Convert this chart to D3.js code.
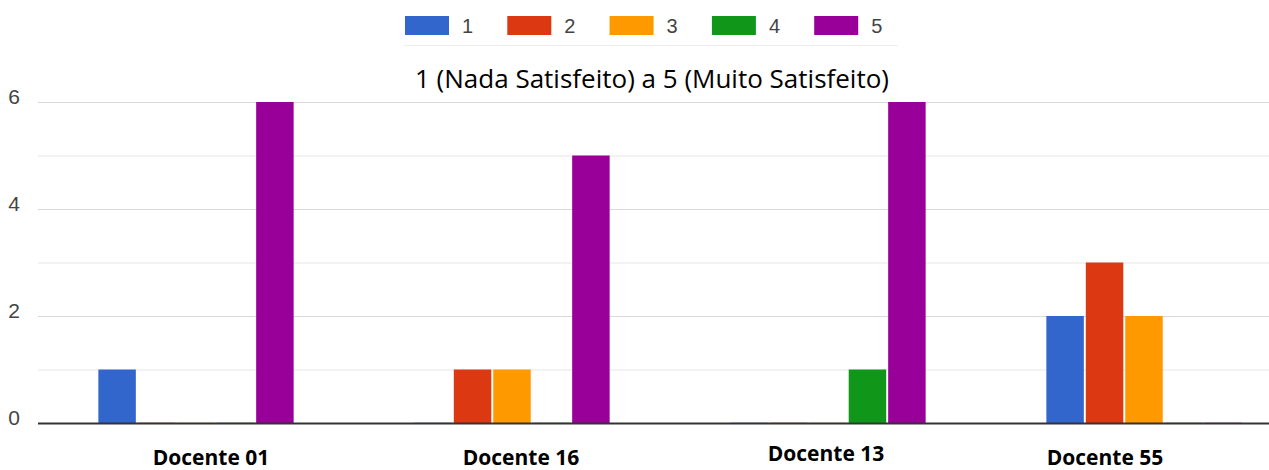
<!DOCTYPE html>
<html>
<head>
<meta charset="utf-8">
<script src="https://cdn.jsdelivr.net/npm/d3@7"></script>
<style>
  body { margin: 0; background: #fff; }
  .grid line { stroke: #e6e6e6; }
  .grid .major line { stroke: #d9d9d9; }
  .grid path { display: none; }
  .yaxis path, .yaxis line { display: none; }
  .yaxis text { font-family: "Liberation Sans", Arial, sans-serif; font-size: 21px; fill: #444; }
  .xaxis path, .xaxis line { display: none; }
  .xaxis text { font-family: "Open Sans", sans-serif; font-weight: bold; font-size: 21px; fill: #000; }
</style>
</head>
<body>
<div id="chart"></div>
<script>
// Datos
var docentes = ["Docente 01", "Docente 16", "Docente 13", "Docente 55"];
var niveles = ["1", "2", "3", "4", "5"];
var nivel1 = [1, 0, 0, 2];
var nivel2 = [0, 1, 0, 3];
var nivel3 = [0, 1, 0, 2];
var nivel4 = [0, 0, 1, 0];
var nivel5 = [6, 5, 6, 0];
var yTicks = [0, 2, 4, 6];
var titulo = "1 (Nada Satisfeito) a 5 (Muito Satisfeito)";
var colores = ["#3366cc", "#dc3912", "#ff9900", "#109618", "#990099"];

var series = [nivel1, nivel2, nivel3, nivel4, nivel5];

// Dimensiones
var W = 1269, H = 470;
var margin = {top: 102, left: 38, bottom: 47};
var height = H - margin.top - margin.bottom;

var svg = d3.select("#chart").append("svg")
    .attr("width", W)
    .attr("height", H);

var x0 = d3.scaleBand().domain(docentes).range([0, 1264]).padding(0);
var x1 = d3.scaleBand().domain(niveles).range([0, x0.bandwidth()])
    .paddingInner(0.05).paddingOuter(1.53);
var y = d3.scaleLinear().domain([0, 6]).range([height, 0]);

var g = svg.append("g")
    .attr("transform", "translate(" + margin.left + "," + margin.top + ")");

// grid
var grid = g.append("g")
    .attr("class", "grid")
    .call(d3.axisLeft(y).tickValues(d3.range(0, 7)).tickSize(-W).tickFormat(""));
grid.selectAll(".tick").classed("major", function(d) { return d % 2 === 0; });

// eje y (etiquetas)
g.append("g")
    .attr("class", "yaxis")
    .attr("transform", "translate(-6,0)")
    .call(d3.axisLeft(y).tickValues(yTicks).tickSize(0).tickPadding(12).tickFormat(d3.format("d")))
  .selectAll("text")
    .attr("dy", "0.05em");

// barras
var filas = docentes.map(function(d, i) {
  return {docente: d, valores: niveles.map(function(n, j) { return {nivel: n, v: series[j][i], c: colores[j]}; })};
});

var grupos = g.selectAll(".grupo")
    .data(filas)
  .enter().append("g")
    .attr("class", "grupo")
    .attr("transform", function(d) { return "translate(" + x0(d.docente) + ",0)"; });

grupos.selectAll("rect")
    .data(function(d) { return d.valores; })
  .enter().append("rect")
    .attr("x", function(d) { return x1(d.nivel); })
    .attr("width", x1.bandwidth())
    .attr("y", function(d) { return d.v > 0 ? y(d.v) : y(0) - 1; })
    .attr("height", function(d) { return d.v > 0 ? y(0) - y(d.v) : 1; })
    .attr("fill", function(d) { return d.c; })
    .attr("opacity", function(d) { return d.v > 0 ? 1 : 0.25; });

// linea base
g.append("line")
    .attr("x1", 0).attr("x2", W)
    .attr("y1", y(0) + 0.5).attr("y2", y(0) + 0.5)
    .attr("stroke", "#333").attr("stroke-width", 2);

// eje x (etiquetas pegadas a mano en el original, no centradas)
var ajusteEtiqueta = {"Docente 01": [15, 0], "Docente 16": [9, 0], "Docente 13": [-2, -4], "Docente 55": [-39, 0]};
g.append("g")
    .attr("class", "xaxis")
    .attr("transform", "translate(0," + y(0) + ")")
    .call(d3.axisBottom(x0).tickSize(0).tickPadding(27))
  .selectAll(".tick text")
    .attr("transform", function(d) { return "translate(" + ajusteEtiqueta[d][0] + "," + ajusteEtiqueta[d][1] + ")"; });

// titulo
svg.append("text")
    .attr("x", 652)
    .attr("y", 88)
    .attr("text-anchor", "middle")
    .style("font-family", "'Open Sans', sans-serif")
    .style("font-size", "26px")
    .style("fill", "#000")
    .text(titulo);

// leyenda
var leyenda = svg.append("g").attr("transform", "translate(405,16)");
var item = leyenda.selectAll(".item")
    .data(niveles)
  .enter().append("g")
    .attr("class", "item")
    .attr("transform", function(d, i) { return "translate(" + (i * 102.3) + ",0)"; });
item.append("rect")
    .attr("width", 44).attr("height", 19)
    .attr("fill", function(d, i) { return colores[i]; });
item.append("text")
    .attr("x", 57).attr("y", 17)
    .style("font-family", "'Liberation Sans', Arial, sans-serif")
    .style("font-size", "20px")
    .style("fill", "#444")
    .text(function(d) { return d; });
svg.append("line")
    .attr("x1", 404).attr("x2", 898)
    .attr("y1", 45.5).attr("y2", 45.5)
    .attr("stroke", "#eee");
</script>
</body>
</html>
